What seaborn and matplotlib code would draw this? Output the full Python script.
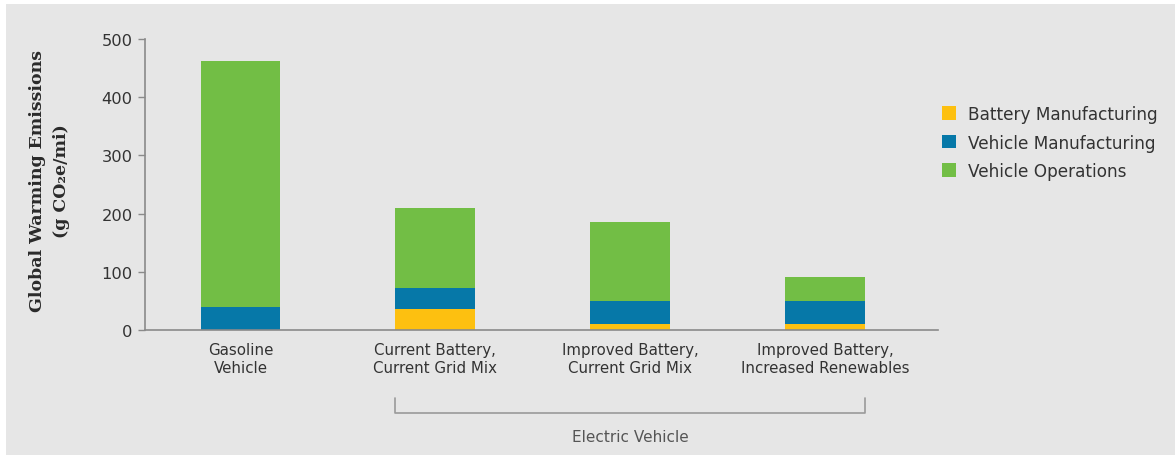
import pandas as pd
import matplotlib.pyplot as plt
import matplotlib.transforms as mtransforms
from matplotlib.patches import Patch, Rectangle
import seaborn as sns

# Emissions per scenario (g CO2e/mi)
categories = ["Gasoline\nVehicle", "Current Battery,\nCurrent Grid Mix",
              "Improved Battery,\nCurrent Grid Mix", "Improved Battery,\nIncreased Renewables"]
battery = [0, 36, 11, 11]
vehicle = [40, 36, 39, 39]
operations = [422, 138, 136, 41]

series_names = ["Battery Manufacturing", "Vehicle Manufacturing", "Vehicle Operations"]
colors = ["#fdc010", "#0678a8", "#72be45"]
bg = "#e6e6e6"

df = pd.DataFrame({"Scenario": categories, "battery": battery,
                   "vehicle": vehicle, "operations": operations})
df["layer_vehicle"] = df["battery"] + df["vehicle"]
df["layer_total"] = df["layer_vehicle"] + df["operations"]

sns.set_theme(style="white")
plt.rcParams['font.family'] = ['DejaVu Sans']

fig = plt.figure(figsize=(11.75, 4.56), dpi=100)
fig.patch.set_facecolor("white")
fig.patches.append(Rectangle((6 / 1175, 0), 1, 1 - 5 / 456, transform=fig.transFigure,
                             facecolor=bg, edgecolor="none", zorder=-10))
ax = fig.add_axes([145 / 1175, 1 - 331 / 456, (938 - 145) / 1175, (331 - 40) / 456])
ax.set_facecolor(bg)

# stacked bars drawn back to front
sns.barplot(data=df, x="Scenario", y="layer_total", color=colors[2], width=0.41,
            linewidth=0, saturation=1, ax=ax)
sns.barplot(data=df, x="Scenario", y="layer_vehicle", color=colors[1], width=0.41,
            linewidth=0, saturation=1, ax=ax)
sns.barplot(data=df, x="Scenario", y="battery", color=colors[0], width=0.41,
            linewidth=0, saturation=1, ax=ax)

ax.set_xlim(-0.49, 3.58)
ax.set_ylim(0, 500)
ax.set_yticks([0, 100, 200, 300, 400, 500])
ax.set_xlabel("")
ax.set_ylabel("Global Warming Emissions\n(g CO\u2082e/mi)", family="DejaVu Serif",
              fontweight="bold", fontsize=12.5, color="#2a2a2a", linespacing=1.6)
ax.yaxis.set_label_coords(-0.094, 0.515)

for side in ["top", "right"]:
    ax.spines[side].set_visible(False)
for side in ["left", "bottom"]:
    ax.spines[side].set_color("#8a8a8a")
    ax.spines[side].set_linewidth(1.2)

ax.tick_params(axis="y", length=5, width=1, color="#8a8a8a", labelsize=11.7,
               labelcolor="#333333", pad=4, left=True)
ax.tick_params(axis="x", length=0, labelsize=10.8, labelcolor="#333333", pad=9)

# bracket grouping the electric vehicle scenarios
trans = mtransforms.blended_transform_factory(ax.transData, ax.transAxes)
x0, x1 = 1 - 0.41 / 2, 3 + 0.41 / 2
ax.plot([x0, x0, x1, x1], [-0.232, -0.284, -0.284, -0.232], transform=trans,
        color="#9a9a9a", lw=1.2, clip_on=False)
ax.text(2, -0.367, "Electric Vehicle", transform=trans, ha="center", va="center",
        fontsize=11, color="#555555")

handles = [Patch(facecolor=c, edgecolor="none") for c in colors]
fig.legend(handles, series_names, loc="upper left", bbox_to_anchor=(942 / 1175, 1 - 106 / 456),
           frameon=False, fontsize=12.2, borderpad=0, borderaxespad=0,
           handlelength=0.85, handleheight=0.85, handletextpad=0.7, labelspacing=0.62,
           labelcolor="#333333")

fig.savefig("out.png", dpi=100, facecolor=fig.get_facecolor())
